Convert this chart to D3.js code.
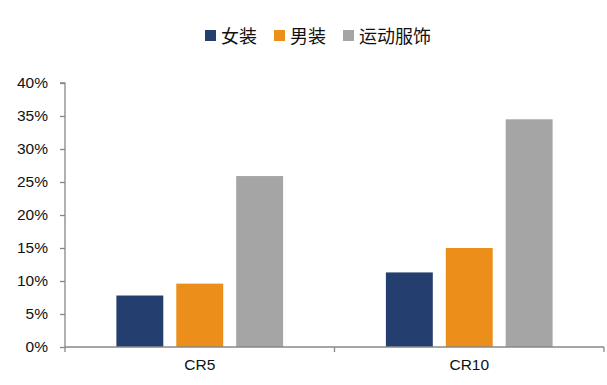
<!DOCTYPE html>
<html><head><meta charset="utf-8">
<script src="https://cdn.jsdelivr.net/npm/d3@7"></script>
<style>
body{margin:0;background:#fff;}
svg{display:block;font-family:"Liberation Sans","Noto Sans CJK SC",sans-serif;}
</style></head><body>
<svg id="c" width="607" height="385"></svg>
<script>
const categories = ["CR5", "CR10"];
const seriesNames = ["女装", "男装", "运动服饰"];
const womens = [0.078, 0.113];
const mens = [0.096, 0.150];
const sports = [0.259, 0.345];
const yTicks = [0, 0.05, 0.10, 0.15, 0.20, 0.25, 0.30, 0.35, 0.40];
const colors = ["#243F6F", "#EC8E1A", "#A5A5A5"];

const series = [womens, mens, sports];
const svg = d3.select("#c");
const pLeft = 65, pRight = 604, pTop = 83, pBottom = 347;

const x = d3.scaleBand().domain(categories).range([pLeft, pRight]).paddingInner(0).paddingOuter(0);
const y = d3.scaleLinear().domain([0, 0.4]).range([pBottom, pTop]);
const inner = d3.scaleBand().domain(d3.range(series.length)).range([0, x.bandwidth()]).paddingInner(0.217).paddingOuter(0.858);

// bars
series.forEach((vals, si) => {
  svg.append("g").selectAll("rect").data(categories).join("rect")
    .attr("x", (c) => x(c) + inner(si))
    .attr("width", inner.bandwidth())
    .attr("y", (c, i) => y(vals[i]))
    .attr("height", (c, i) => y(0) - y(vals[i]))
    .attr("fill", colors[si]);
});

// y axis
const yAxis = d3.axisLeft(y).tickValues(yTicks).tickFormat(d3.format(".0%")).tickSize(5).tickPadding(12);
const gy = svg.append("g").attr("transform", `translate(${pLeft},0)`).call(yAxis);
gy.select(".domain").attr("stroke", "#888").attr("stroke-width", 1.3).attr("d", `M-5,${pTop}H0V${pBottom}`);
gy.selectAll(".tick line").attr("stroke", "#888").attr("stroke-width", 1.3);
gy.selectAll(".tick text").attr("font-size", 15.5).attr("fill", "#111").attr("font-family", "Liberation Sans, sans-serif");

// x axis
const xAxis = d3.axisBottom(x).tickSize(0).tickPadding(12);
const gx = svg.append("g").attr("transform", `translate(0,${pBottom})`).call(xAxis);
gx.select(".domain").attr("stroke", "#888").attr("stroke-width", 1.3).attr("d", `M${pLeft},0H${pRight}`);
gx.selectAll(".tick text").attr("font-size", 15.5).attr("fill", "#111").attr("font-family", "Liberation Sans, sans-serif");
// category boundary ticks
const bounds = [pLeft, ...categories.map(c => x(c) + x.bandwidth())];
svg.append("g").selectAll("line").data(bounds).join("line")
  .attr("x1", d => d).attr("x2", d => d)
  .attr("y1", pBottom).attr("y2", pBottom + 5)
  .attr("stroke", "#888").attr("stroke-width", 1.3);

// legend
const legendX = [205, 274, 343];
const lg = svg.append("g");
seriesNames.forEach((n, i) => {
  lg.append("rect").attr("x", legendX[i]).attr("y", 30).attr("width", 11).attr("height", 11).attr("fill", colors[i]);
  lg.append("text").attr("x", legendX[i] + 16).attr("y", 42.5)
    .attr("font-size", 18).attr("fill", "#111")
    .attr("font-family", "Noto Sans CJK SC, sans-serif")
    .text(n);
});
</script>
</body></html>
